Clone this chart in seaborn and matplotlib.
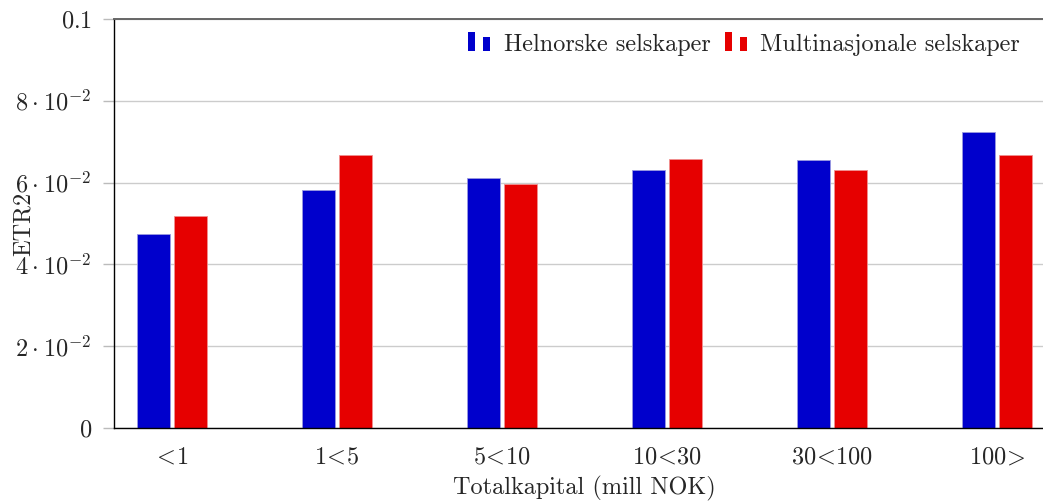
import matplotlib
matplotlib.use("Agg")
import matplotlib.pyplot as plt
import seaborn as sns
import pandas as pd
from matplotlib.patches import Rectangle
from matplotlib.legend_handler import HandlerBase

categories = [r"$\!<\!1$", r"$1\!<\!5$", r"$5\!<\!10$", r"$10\!<\!30$", r"$30\!<\!100$", r"$100\!>\!$"]
helnorske = [0.0475, 0.0581, 0.0611, 0.0631, 0.0656, 0.0723]
multinasjonale = [0.0518, 0.0667, 0.0597, 0.0658, 0.0631, 0.0667]
series_names = ["Helnorske selskaper", "Multinasjonale selskaper"]
ytick_values = [0, 0.02, 0.04, 0.06, 0.08, 0.1]
ytick_labels = [r"$0$", r"$2\:\cdot\:10^{-2}$", r"$4\:\cdot\:10^{-2}$", r"$6\:\cdot\:10^{-2}$",
                r"$8\:\cdot\:10^{-2}$", r"$0.1$"]

FS = 17.5

sns.set_theme(style="white")
plt.rcParams["font.family"] = ["cmr10", "DejaVu Serif"]
plt.rcParams["mathtext.fontset"] = "cm"
plt.rcParams["axes.unicode_minus"] = False
plt.rcParams["axes.formatter.use_mathtext"] = True

df = pd.DataFrame({
    "kat": categories * 2,
    "verdi": helnorske + multinasjonale,
    "serie": [series_names[0]] * len(categories) + [series_names[1]] * len(categories),
})

fig = plt.figure(figsize=(10.43, 5.01), dpi=100)
ax = fig.add_axes([114 / 1043, 1 - 428.3 / 501, 941 / 1043, 409.6 / 501])

palette = {series_names[0]: "#0000CC", series_names[1]: "#E60000"}
sns.barplot(data=df, x="kat", y="verdi", hue="serie", palette=palette, ax=ax,
            width=0.448, gap=0.108, saturation=1, errorbar=None,
            linewidth=0.6)
for cont, ec in zip(ax.containers, ["#9A9AE0", "#F09090"]):
    for p in cont:
        p.set_edgecolor(ec)

ax.set_xlim(-0.3515, 5.3515)
ax.set_ylim(0, 0.1)
ax.set_yticks(ytick_values)
ax.set_yticklabels(ytick_labels)
ax.yaxis.grid(True, color="#CCCCCC", linewidth=1.0)
ax.set_axisbelow(True)
ax.tick_params(axis="y", which="major", length=8, color="#BBBBBB", width=1.0,
               labelsize=FS, pad=8, left=True)
ax.tick_params(axis="x", length=0, labelsize=FS, pad=13)

for s in ["left", "bottom"]:
    ax.spines[s].set_color("black")
    ax.spines[s].set_linewidth(1.0)
ax.spines["top"].set_color("#666666")
ax.spines["top"].set_linewidth(1.4)
ax.spines["right"].set_visible(False)

ax.set_xlabel("Totalkapital (mill NOK)", fontsize=FS, labelpad=5)
ax.set_ylabel("ETR2", fontsize=FS)
ax.yaxis.set_label_coords(-0.084, 0.5)


class TwoBarHandler(HandlerBase):
    def create_artists(self, legend, orig_handle, xdescent, ydescent, width, height,
                       fontsize, trans):
        c = orig_handle.get_facecolor()
        w = width * 0.32
        r1 = Rectangle((-xdescent, -ydescent), w, height * 1.08,
                       facecolor=c, edgecolor="none", transform=trans)
        r2 = Rectangle((-xdescent + width * 0.68, -ydescent), w, height * 0.82,
                       facecolor=c, edgecolor="none", transform=trans)
        return [r1, r2]


handles, labels = ax.get_legend_handles_labels()
ax.legend(handles, labels, handler_map={type(handles[0]): TwoBarHandler()},
          ncol=2, frameon=False, loc="upper right",
          bbox_to_anchor=(1020 / 1043, 1 - 33.5 / 501), bbox_transform=fig.transFigure,
          borderaxespad=0, borderpad=0, fontsize=FS, handlelength=0.9,
          handletextpad=0.55, columnspacing=0.6, handleheight=0.7)

fig.savefig("out.png", dpi=100)
